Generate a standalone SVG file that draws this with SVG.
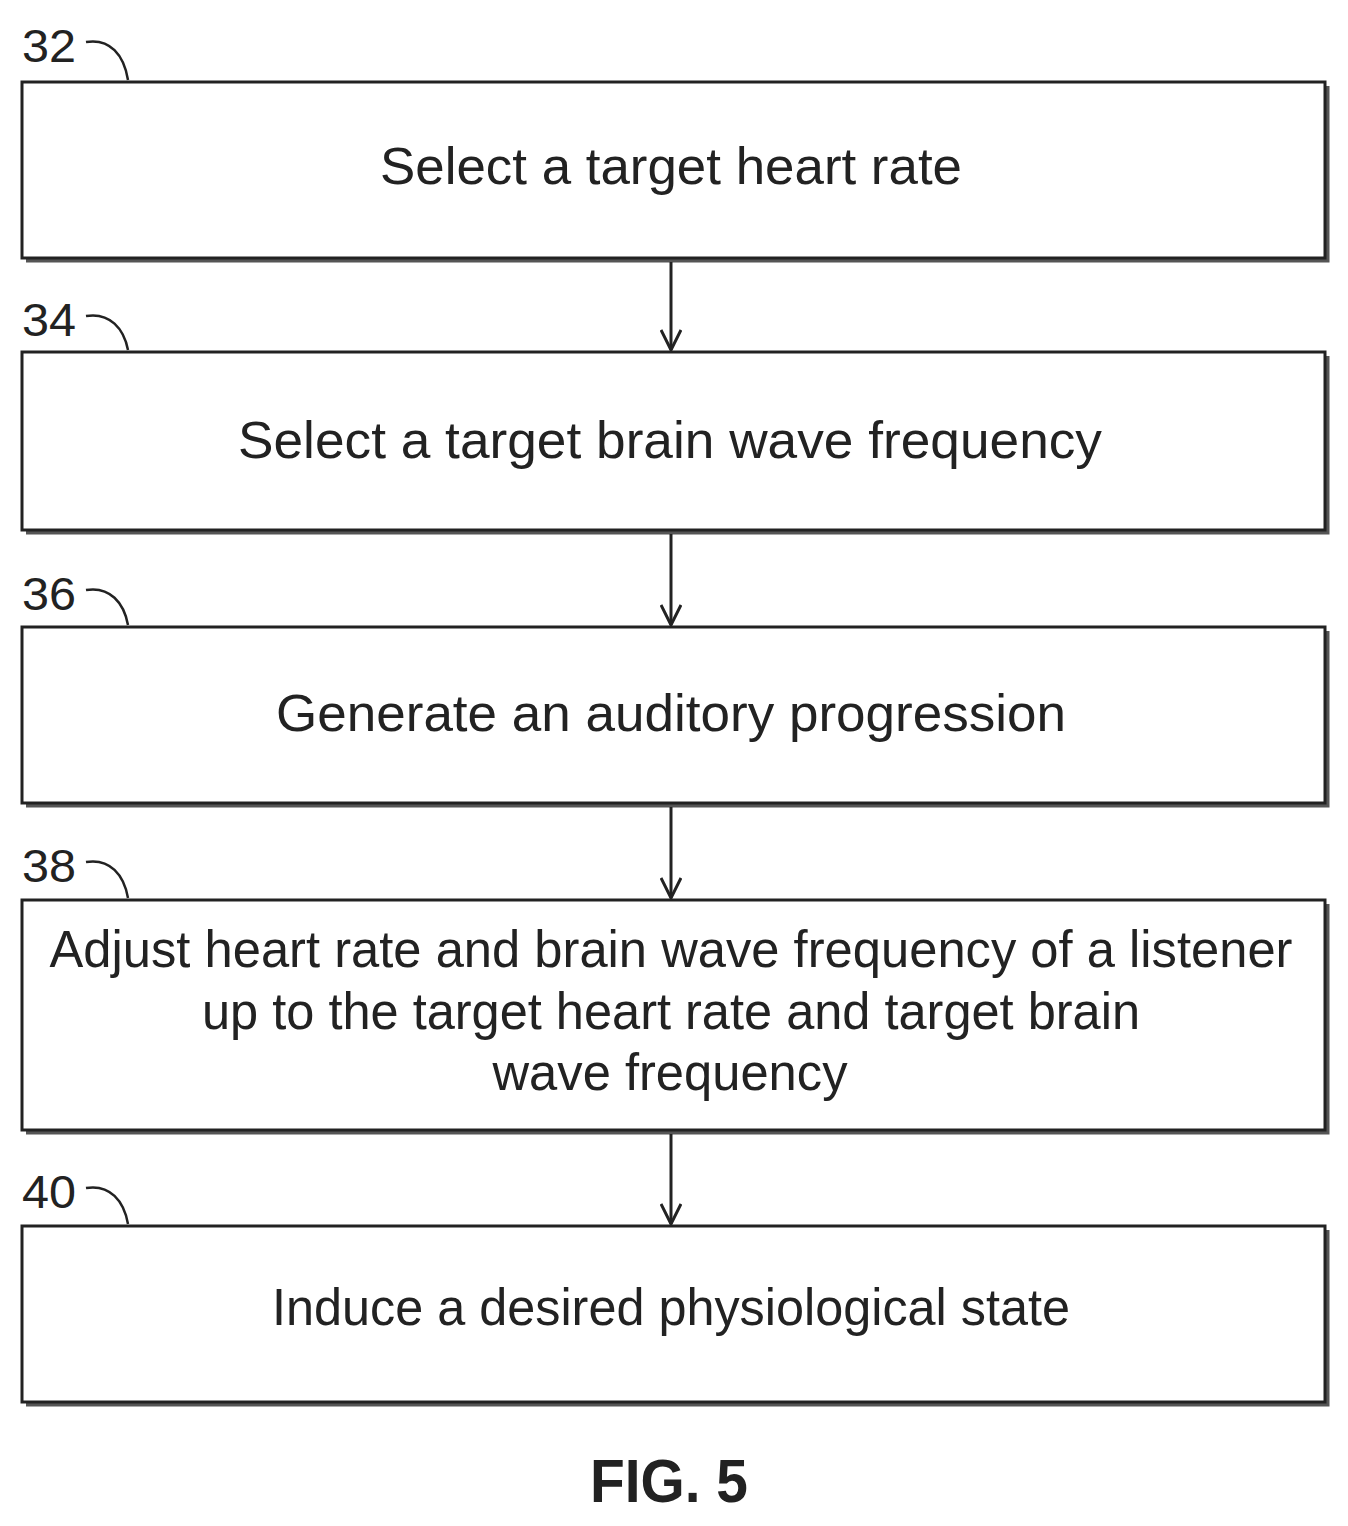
<svg xmlns="http://www.w3.org/2000/svg" width="1348" height="1526" viewBox="0 0 1348 1526">
<style>
.box{fill:#fff;stroke:#222;stroke-width:3}
.sh{fill:none;stroke:#555;stroke-width:5}
.t{font-family:"Liberation Sans",Arial,sans-serif;font-size:52px;fill:#222;text-anchor:middle}
.n{font-family:"Liberation Sans",Arial,sans-serif;font-size:46px;fill:#222}
.ld{fill:none;stroke:#222;stroke-width:2.5}
.c{stroke:#222;stroke-width:3;fill:none}
</style>
<defs><marker id="a" viewBox="0 0 22 22" refX="21" refY="11" markerWidth="22" markerHeight="22" markerUnits="userSpaceOnUse" orient="auto"><path d="M1,1 L21,11 L1,21" fill="none" stroke="#222" stroke-width="3"/></marker></defs>
<rect width="1348" height="1526" fill="#fff"/>
<g id="n32"><path class="sh" d="M1327,86 V260 H26"/><rect class="box" x="22" y="82" width="1303" height="176"/>
<text class="t" x="671" y="184" textLength="582" lengthAdjust="spacingAndGlyphs">Select a target heart rate</text>
<text class="n" x="22" y="62" textLength="54" lengthAdjust="spacingAndGlyphs">32</text><path class="ld" d="M86,42 C110,38 124,55 128,80"/></g>
<g id="n34"><path class="sh" d="M1327,356 V532 H26"/><rect class="box" x="22" y="352" width="1303" height="178"/>
<text class="t" x="670" y="458" textLength="864" lengthAdjust="spacingAndGlyphs">Select a target brain wave frequency</text>
<text class="n" x="22" y="336" textLength="54" lengthAdjust="spacingAndGlyphs">34</text><path class="ld" d="M86,316 C110,312 124,329 128,350"/></g>
<g id="n36"><path class="sh" d="M1327,631 V805 H26"/><rect class="box" x="22" y="627" width="1303" height="176"/>
<text class="t" x="671" y="731" textLength="790" lengthAdjust="spacingAndGlyphs">Generate an auditory progression</text>
<text class="n" x="22" y="610" textLength="54" lengthAdjust="spacingAndGlyphs">36</text><path class="ld" d="M86,590 C110,586 124,603 128,625"/></g>
<g id="n38"><path class="sh" d="M1327,904 V1132 H26"/><rect class="box" x="22" y="900" width="1303" height="230"/>
<text class="t" x="671" y="967" textLength="1243" lengthAdjust="spacingAndGlyphs">Adjust heart rate and brain wave frequency of a listener</text>
<text class="t" x="671" y="1029" textLength="938" lengthAdjust="spacingAndGlyphs">up to the target heart rate and target brain</text>
<text class="t" x="670" y="1090" textLength="355" lengthAdjust="spacingAndGlyphs">wave frequency</text>
<text class="n" x="22" y="882" textLength="54" lengthAdjust="spacingAndGlyphs">38</text><path class="ld" d="M86,862 C110,858 124,875 128,898"/></g>
<g id="n40"><path class="sh" d="M1327,1230 V1404 H26"/><rect class="box" x="22" y="1226" width="1303" height="176"/>
<text class="t" x="671" y="1325" textLength="798" lengthAdjust="spacingAndGlyphs">Induce a desired physiological state</text>
<text class="n" x="22" y="1208" textLength="54" lengthAdjust="spacingAndGlyphs">40</text><path class="ld" d="M86,1188 C110,1184 124,1201 128,1224"/></g>
<g id="connectors">
<line class="c" x1="671" y1="262" x2="671" y2="350" marker-end="url(#a)"/>
<line class="c" x1="671" y1="534" x2="671" y2="625" marker-end="url(#a)"/>
<line class="c" x1="671" y1="807" x2="671" y2="898" marker-end="url(#a)"/>
<line class="c" x1="671" y1="1134" x2="671" y2="1224" marker-end="url(#a)"/>
</g>
<text x="669" y="1502" font-family="Liberation Sans,Arial,sans-serif" font-weight="bold" font-size="62" fill="#222" text-anchor="middle" textLength="158" lengthAdjust="spacingAndGlyphs">FIG. 5</text>
</svg>
